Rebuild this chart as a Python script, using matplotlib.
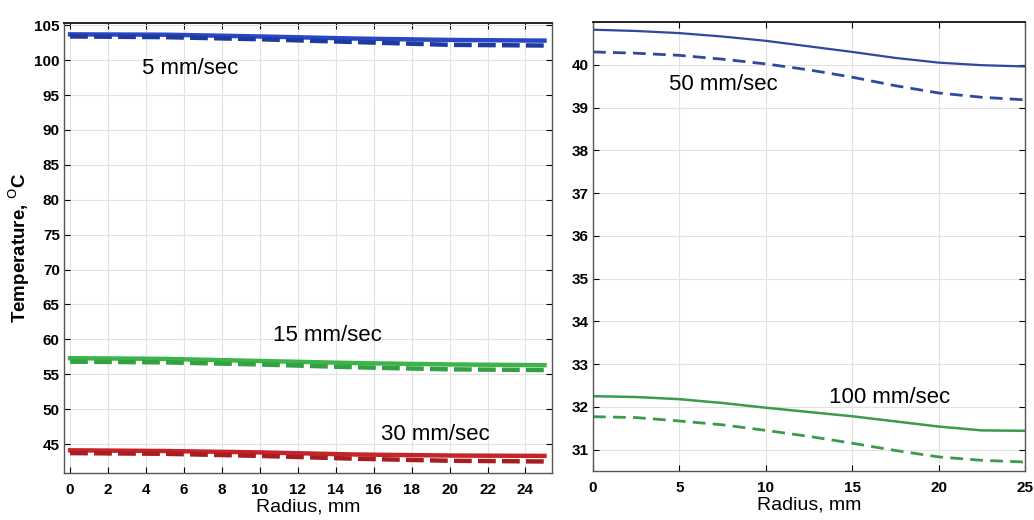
import matplotlib.pyplot as plt

# radius points (mm)
r_left = [0, 5, 10, 15, 20, 25]
r_right = [0, 2.5, 5, 7.5, 10, 12.5, 15, 17.5, 20, 22.5, 25]

# left panel: 5, 15, 30 mm/sec (solid and dashed)
v5_solid = [103.7, 103.65, 103.4, 103.1, 102.9, 102.8]
v5_dash = [103.4, 103.3, 103.0, 102.6, 102.2, 102.1]
v15_solid = [57.3, 57.2, 56.9, 56.6, 56.4, 56.3]
v15_dash = [56.8, 56.7, 56.4, 56.0, 55.7, 55.6]
v30_solid = [44.1, 44.0, 43.8, 43.5, 43.35, 43.3]
v30_dash = [43.7, 43.6, 43.3, 42.9, 42.6, 42.5]

# right panel: 50, 100 mm/sec
v50_solid = [40.82, 40.79, 40.74, 40.66, 40.56, 40.43, 40.30, 40.16, 40.05, 39.99, 39.96]
v50_dash = [40.30, 40.27, 40.22, 40.13, 40.02, 39.88, 39.71, 39.51, 39.34, 39.24, 39.18]
v100_solid = [32.25, 32.23, 32.18, 32.09, 31.98, 31.88, 31.78, 31.66, 31.54, 31.45, 31.44]
v100_dash = [31.77, 31.75, 31.67, 31.58, 31.45, 31.31, 31.15, 30.98, 30.83, 30.75, 30.71]

tick_font = {'family': ['Liberation Sans Narrow', 'Liberation Sans', 'DejaVu Sans'],
             'weight': 'bold', 'size': 11}
txt_font = ['Liberation Sans', 'DejaVu Sans']

fig = plt.figure(figsize=(10.34, 5.2), dpi=100)
ax1 = fig.add_axes([0.0619, 0.0904, 0.472, 0.865])
ax2 = fig.add_axes([0.5735, 0.0942, 0.4178, 0.8635])

blue_l = '#2747c4'
green_l = '#3db44a'
red_l = '#c4242a'
ax1.plot(r_left, v5_solid, color=blue_l, lw=3.2)
ax1.plot(r_left, v5_dash, color='#1f3a9e', lw=3.2, dashes=(4, 1.4))
ax1.plot(r_left, v15_solid, color=green_l, lw=3.2)
ax1.plot(r_left, v15_dash, color='#33a043', lw=3.2, dashes=(4, 1.4))
ax1.plot(r_left, v30_solid, color=red_l, lw=3.2)
ax1.plot(r_left, v30_dash, color='#a81d22', lw=3.2, dashes=(4, 1.4))

ax1.set_xlim(-0.32, 25.4)
ax1.set_ylim(40.85, 105.3)
ax1.set_xticks(range(0, 25, 2))
ax1.set_yticks(range(45, 106, 5))
ax1.text(3.8, 98.8, '5 mm/sec', fontsize=16, family=txt_font, va='center')
ax1.text(10.7, 60.6, '15 mm/sec', fontsize=16, family=txt_font, va='center')
ax1.text(16.4, 46.3, '30 mm/sec', fontsize=16, family=txt_font, va='center')
ax1.set_xlabel('Radius, mm', fontsize=14, family=txt_font, labelpad=1)
ax1.set_ylabel(r'Temperature, $^{\mathrm{O}}$C', fontsize=13.5, family=txt_font,
               fontweight='bold', labelpad=2)

blue_r = '#2d4a9c'
green_r = '#3c9a4c'
ax2.plot(r_right, v50_solid, color=blue_r, lw=1.6)
ax2.plot(r_right, v50_dash, color=blue_r, lw=2.0, dashes=(4.6, 2.6))
ax2.plot(r_right, v100_solid, color=green_r, lw=1.8)
ax2.plot(r_right, v100_dash, color=green_r, lw=2.0, dashes=(4.6, 2.6))

ax2.set_xlim(0, 25)
ax2.set_ylim(30.5, 41.0)
ax2.set_xticks(range(0, 26, 5))
ax2.set_yticks(range(31, 41))
ax2.text(4.4, 39.53, '50 mm/sec', fontsize=16, family=txt_font, va='center')
ax2.text(13.66, 32.23, '100 mm/sec', fontsize=16, family=txt_font, va='center')
ax2.set_xlabel('Radius, mm', fontsize=14, family=txt_font, labelpad=1)

for ax in (ax1, ax2):
    ax.grid(True, color='#e2e2e2', lw=0.8)
    ax.set_axisbelow(True)
    ax.tick_params(direction='in', top=True, right=True, length=4, width=0.8)
    ax.tick_params(axis='x', pad=7)
    ax.tick_params(axis='y', pad=3)
    for lab in ax.get_xticklabels() + ax.get_yticklabels():
        lab.set_fontproperties(tick_font)
    for s in ax.spines.values():
        s.set_color('#555555')
        s.set_linewidth(1.0)
    ax.spines['top'].set_color('#222222')
    ax.spines['top'].set_linewidth(1.4)

fig.savefig('out.png', dpi=100)
